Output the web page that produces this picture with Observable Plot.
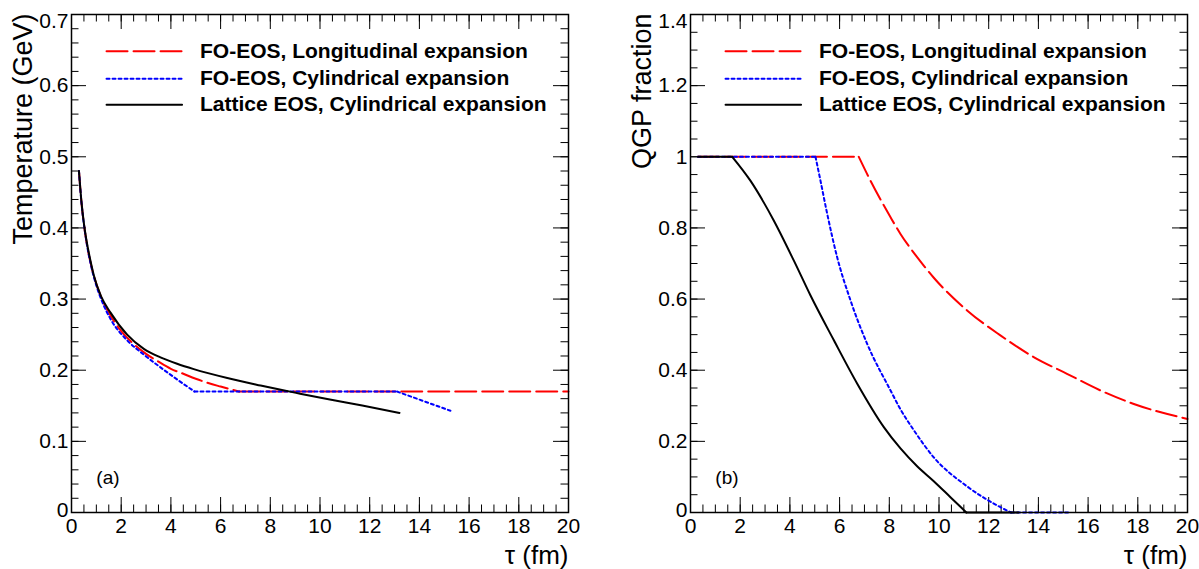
<!DOCTYPE html>
<html>
<head>
<meta charset="utf-8">
<script src="https://cdn.jsdelivr.net/npm/d3@7"></script>
<script src="https://cdn.jsdelivr.net/npm/@observablehq/plot@0.6"></script>
<style>
  html, body { margin: 0; padding: 0; background: #fff; }
  #wrap { position: relative; width: 1199px; height: 569px; overflow: hidden; background: #fff; }
  #wrap > svg { position: absolute; top: 0; }
</style>
</head>
<body>
<div id="wrap"></div>
<script>
// ---------------- data ----------------
const seriesLabels = ["FO-EOS, Longitudinal expansion", "FO-EOS, Cylindrical expansion", "Lattice EOS, Cylindrical expansion"];

// Panel (a): temperature vs tau
const tauA_long = [0.3, 0.4, 0.5, 0.6, 0.8, 1, 1.25, 1.5, 2, 2.5, 3, 3.5, 4, 4.5, 5, 5.5, 6, 6.75, 20];
const tempA_long = [0.480, 0.436, 0.405, 0.381, 0.346, 0.321, 0.298, 0.281, 0.255, 0.237, 0.223, 0.212, 0.202, 0.195, 0.188, 0.182, 0.177, 0.170, 0.170];
const kinkA_long = [6.75];

const tauA_cyl = [0.3, 0.4, 0.5, 0.6, 0.8, 1, 1.25, 1.57, 2.24, 2.91, 3.58, 4.25, 4.95, 13.1, 15.25];
const tempA_cyl = [0.480, 0.436, 0.405, 0.381, 0.345, 0.319, 0.295, 0.272, 0.242, 0.222, 0.204, 0.187, 0.170, 0.170, 0.143];
const kinkA_cyl = [4.95, 13.1];

const tauA_lat = [0.3, 0.4, 0.5, 0.6, 0.8, 0.9, 1.2, 1.57, 2.24, 2.91, 3.58, 4.25, 4.92, 6.27, 7.61, 8.28, 9.2, 10.29, 11.7, 13.2];
const tempA_lat = [0.480, 0.437, 0.406, 0.383, 0.348, 0.333, 0.303, 0.281, 0.250, 0.230, 0.218, 0.209, 0.2015, 0.189, 0.1785, 0.1735, 0.167, 0.1595, 0.1505, 0.140];
const kinkA_lat = [];

// Panel (b): QGP fraction vs tau
const tauB_long = [0.3, 6.77, 7.24, 8.05, 8.45, 9.12, 9.79, 11.13, 12.47, 13.81, 15.15, 16.5, 17.84, 20];
const fracB_long = [1, 1, 0.933, 0.830, 0.783, 0.718, 0.660, 0.568, 0.498, 0.437, 0.390, 0.343, 0.305, 0.263];
const kinkB_long = [6.77];

const tauB_cyl = [0.3, 5.03, 5.23, 5.50, 5.90, 6.44, 7.11, 8.05, 8.45, 8.99, 9.79, 11.1, 12.47, 12.9, 15.2];
const fracB_cyl = [1, 1, 0.933, 0.840, 0.718, 0.596, 0.474, 0.343, 0.290, 0.231, 0.155, 0.075, 0.015, 0, 0];
const kinkB_cyl = [5.03, 12.9];

const tauB_lat = [0.3, 1.68, 2.41, 3.35, 4.16, 4.83, 5.77, 6.71, 7.78, 8.45, 9.12, 9.79, 10.46, 11.1, 13.2];
const fracB_lat = [1, 1, 0.933, 0.821, 0.708, 0.610, 0.484, 0.362, 0.240, 0.180, 0.130, 0.088, 0.043, 0, 0];
const kinkB_lat = [1.68, 11.1];

// ticks
const xMajor = [0, 2, 4, 6, 8, 10, 12, 14, 16, 18, 20];
const xMinorStep = 0.5;
const yMajorA = [0, 0.1, 0.2, 0.3, 0.4, 0.5, 0.6, 0.7];
const yMinorStepA = 0.02;
const yMajorB = [0, 0.2, 0.4, 0.6, 0.8, 1, 1.2, 1.4];
const yMinorStepB = 0.05;

const xTitle = "τ (fm)";
const yTitleA = "Temperature (GeV)";
const yTitleB = "QGP fraction";
const panelTags = ["(a)", "(b)"];

// ---------------- styles ----------------
const colors = ["#ff0000", "#0000ff", "#000000"];
const dashes = ["21,6", "3,3", null];
const font = "'Liberation Sans', Arial, Helvetica, sans-serif";

function rows(tau, val, kinks) {
  const out = [];
  tau.forEach((t, i) => {
    const seg = kinks.filter(k => k < t).length;
    out.push({t, v: val[i], seg});
    if (kinks.includes(t)) out.push({t, v: val[i], seg: seg + 1});
  });
  return out;
}

function minorTicks(step, max) {
  const n = Math.round(max / step);
  return d3.range(0, n + 1).map(i => +(i * step).toFixed(4));
}

function panel({series, ymax, yMajor, yMinorStep, yTitle, tag, width, marginLeft, marginRight}) {
  const height = 569, marginTop = 14, marginBottom = 57;
  const fw = width - marginLeft - marginRight;
  const fh = height - marginTop - marginBottom;
  const xMinor = minorTicks(xMinorStep, 20);
  const yMinor = minorTicks(yMinorStep, ymax);
  const majLen = 15, minLen = 7.5;
  const tickStyle = {stroke: "#000", strokeWidth: 1};

  const legendRows = seriesLabels.map((label, i) => ({label, i, y: ymax * [0.926, 0.871, 0.819][i]}));
  const legendLines = legendRows.flatMap(r => [{x: 1.41, y: r.y, i: r.i}, {x: 4.45, y: r.y, i: r.i}]);

  const n = yMajor.length;
  const marks = [
    // ticks inside frame, all four sides
    Plot.tickX(xMajor, {x: d => d, insetTop: fh - majLen, ...tickStyle}),
    Plot.tickX(xMinor, {x: d => d, insetTop: fh - minLen, ...tickStyle}),
    Plot.tickX(xMajor, {x: d => d, insetBottom: fh - majLen, ...tickStyle}),
    Plot.tickX(xMinor, {x: d => d, insetBottom: fh - minLen, ...tickStyle}),
    Plot.tickY(yMajor, {y: d => d, insetRight: fw - majLen, ...tickStyle}),
    Plot.tickY(yMinor, {y: d => d, insetRight: fw - minLen, ...tickStyle}),
    Plot.tickY(yMajor, {y: d => d, insetLeft: fw - majLen, ...tickStyle}),
    Plot.tickY(yMinor, {y: d => d, insetLeft: fw - minLen, ...tickStyle}),
    // tick labels
    Plot.text(xMajor, {x: d => d, frameAnchor: "bottom", text: d => String(d), lineAnchor: "top", dy: 6, fontSize: 21}),
    Plot.text(yMajor.slice(0, 1), {y: d => d, frameAnchor: "left", text: d => String(d), textAnchor: "end", dx: -3, dy: -2, fontSize: 21}),
    Plot.text(yMajor.slice(1, n - 1), {y: d => d, frameAnchor: "left", text: d => String(d), textAnchor: "end", dx: -3, fontSize: 21}),
    Plot.text(yMajor.slice(n - 1), {y: d => d, frameAnchor: "left", text: d => String(d), textAnchor: "end", dx: -3, dy: 7, fontSize: 21}),
    // curves
    ...series.map((s, i) => Plot.line(rows(s.tau, s.val, s.kinks), {
      x: "t", y: "v", z: "seg", stroke: colors[i], strokeWidth: 2,
      strokeDasharray: dashes[i], curve: "monotone-x"
    })),
    // legend
    ...[0, 1, 2].map(i => Plot.line(legendLines.filter(d => d.i === i), {
      x: "x", y: "y", stroke: colors[i], strokeWidth: 2, strokeDasharray: dashes[i]
    })),
    Plot.text(legendRows, {x: 5.17, y: "y", text: "label", textAnchor: "start", fontWeight: "bold", fontSize: 21}),
    // panel tag
    Plot.text([tag], {x: 1.0, y: ymax * 0.07, text: d => d, textAnchor: "start", fontSize: 19}),
    // axis titles
    Plot.text([yTitle], {frameAnchor: "top-left", text: d => d, rotate: -90, textAnchor: "end", dx: -59, dy: -1, fontSize: 27}),
    Plot.text([xTitle], {frameAnchor: "bottom-right", text: d => d, textAnchor: "end", lineAnchor: "bottom", dy: 51, fontSize: 26}),
    Plot.frame({stroke: "#000", strokeWidth: 1.5})
  ];

  return Plot.plot({
    width, height, marginTop, marginBottom, marginLeft, marginRight,
    x: {domain: [0, 20], axis: null},
    y: {domain: [0, ymax], axis: null},
    style: {fontFamily: font, background: "transparent", color: "#000", overflow: "visible"},
    marks
  });
}

const left = panel({
  series: [
    {tau: tauA_long, val: tempA_long, kinks: kinkA_long},
    {tau: tauA_cyl, val: tempA_cyl, kinks: kinkA_cyl},
    {tau: tauA_lat, val: tempA_lat, kinks: kinkA_lat}
  ],
  ymax: 0.7, yMajor: yMajorA, yMinorStep: yMinorStepA, yTitle: yTitleA, tag: panelTags[0],
  width: 600, marginLeft: 71, marginRight: 32
});
const right = panel({
  series: [
    {tau: tauB_long, val: fracB_long, kinks: kinkB_long},
    {tau: tauB_cyl, val: fracB_cyl, kinks: kinkB_cyl},
    {tau: tauB_lat, val: fracB_lat, kinks: kinkB_lat}
  ],
  ymax: 1.4, yMajor: yMajorB, yMinorStep: yMinorStepB, yTitle: yTitleB, tag: panelTags[1],
  width: 599, marginLeft: 90, marginRight: 12
});
left.style.left = "0px";
right.style.left = "600px";
document.getElementById("wrap").append(left, right);
</script>
</body>
</html>
